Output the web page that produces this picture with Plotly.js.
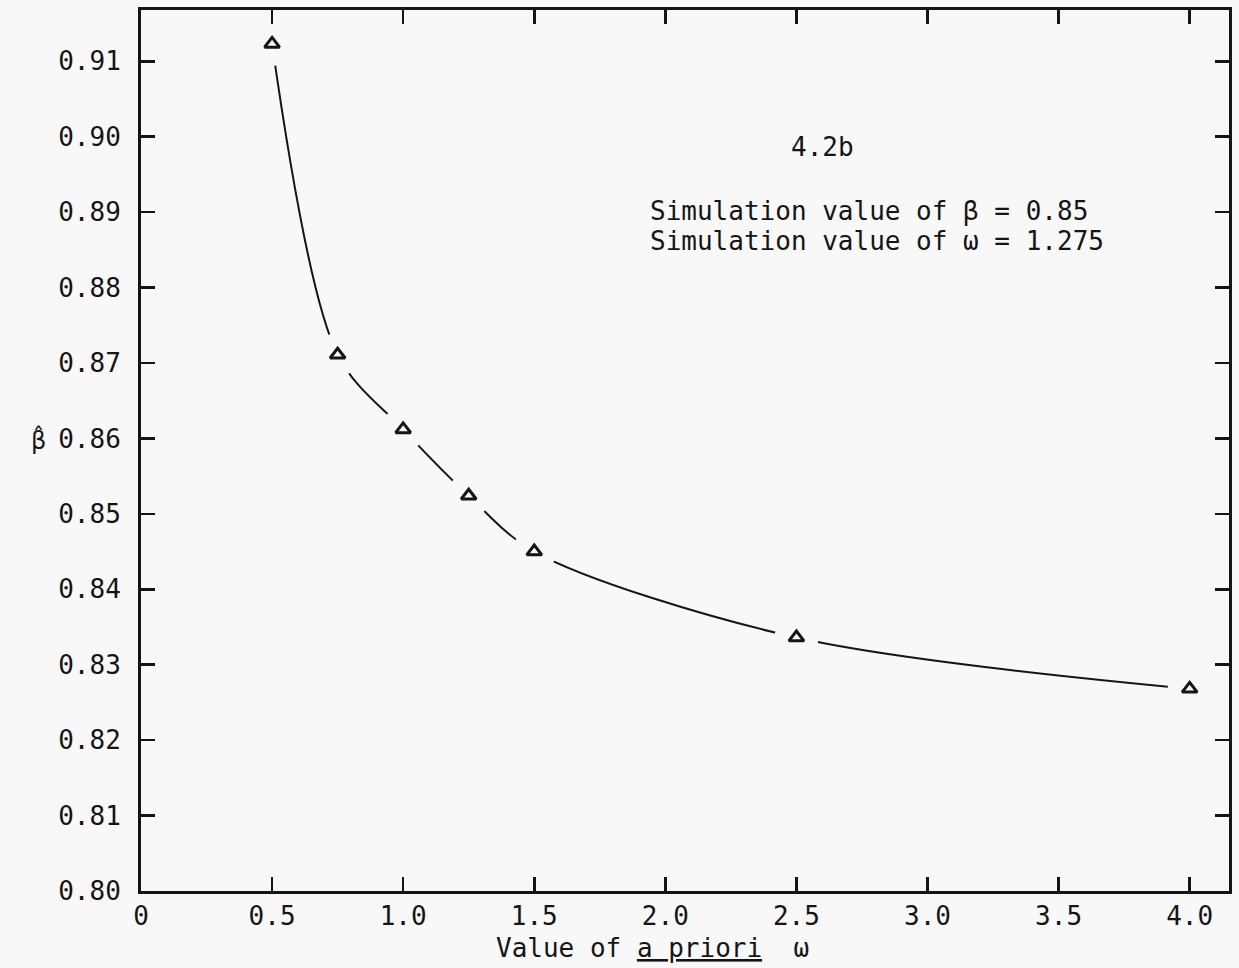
<!DOCTYPE html>
<html>
<head>
<meta charset="utf-8">
<script src="https://cdn.plot.ly/plotly-3.0.1.min.js"></script>
<style>html,body{margin:0;padding:0;background:#f8f8f8;}</style>
</head>
<body>
<div id="chart" style="width:1239px;height:968px;"></div>
<script>
// Data
const omegaPrior = [0.5, 0.75, 1.0, 1.25, 1.5, 2.5, 4.0];
const betaHat   = [0.9123, 0.8711, 0.8612, 0.8524, 0.8450, 0.8336, 0.8268];

const xTickVals = [0, 0.5, 1.0, 1.5, 2.0, 2.5, 3.0, 3.5, 4.0];
const xTickText = ['0', '0.5', '1.0', '1.5', '2.0', '2.5', '3.0', '3.5', '4.0'];
const yTickVals = [0.80, 0.81, 0.82, 0.83, 0.84, 0.85, 0.86, 0.87, 0.88, 0.89, 0.90, 0.91];
const yTickText = ['0.80', '0.81', '0.82', '0.83', '0.84', '0.85', '0.86', '0.87', '0.88', '0.89', '0.90', '0.91'];

const FONT = 'DejaVu Sans Mono, Liberation Mono, monospace';
const BG = '#f8f8f8';
const INK = '#151515';

const traces = [
  { // smooth curve
    x: omegaPrior, y: betaHat, type: 'scatter', mode: 'lines',
    line: {shape: 'spline', smoothing: 0.9, color: INK, width: 2},
    hoverinfo: 'skip', showlegend: false
  },
  { // background-coloured masks to break the line around each point
    x: omegaPrior, y: betaHat, type: 'scatter', mode: 'markers',
    marker: {symbol: 'circle', size: 44, color: BG, line: {width: 0}},
    hoverinfo: 'skip', showlegend: false
  },
  { // open triangle markers
    x: omegaPrior, y: betaHat, type: 'scatter', mode: 'markers',
    marker: {symbol: 'triangle-up-open', size: 13, color: INK, line: {width: 3, color: INK}},
    showlegend: false
  }
];

const axisCommon = {
  showgrid: false, zeroline: false, showline: true, linecolor: INK, linewidth: 3,
  mirror: 'ticks', ticks: 'inside', ticklen: 14, tickwidth: 2.5, tickcolor: INK,
  tickfont: {family: FONT, size: 26, color: INK}, tickmode: 'array'
};

const layout = {
  width: 1239, height: 968,
  margin: {l: 141, r: 10, t: 10, b: 77},
  paper_bgcolor: BG, plot_bgcolor: BG,
  xaxis: Object.assign({}, axisCommon, {
    range: [0, 4.15], tickvals: xTickVals, ticktext: xTickText,
    ticklabelstandoff: 0
  }),
  yaxis: Object.assign({}, axisCommon, {
    range: [0.80, 0.9168], tickvals: yTickVals, ticktext: yTickText,
    ticklabelstandoff: 12
  }),
  annotations: [
    {xref: 'paper', yref: 'paper', x: 0.4697, y: -0.0647, text: 'Value of <u>a priori</u>\u00a0 ω', showarrow: false,
     font: {family: FONT, size: 26, color: INK}, xanchor: 'center', yanchor: 'middle'},
    {xref: 'paper', yref: 'paper', x: -0.094, y: 0.512, text: 'β\u0302', showarrow: false,
     font: {family: 'DejaVu Sans, sans-serif', size: 24, color: INK}, xanchor: 'center', yanchor: 'middle'},
    {xref: 'paper', yref: 'paper', x: 0.626, y: 0.8445, text: '4.2b', showarrow: false,
     font: {family: FONT, size: 26, color: INK}, xanchor: 'center', yanchor: 'middle'},
    {xref: 'paper', yref: 'paper', x: 0.466, y: 0.772, text: 'Simulation value of β = 0.85', showarrow: false,
     font: {family: FONT, size: 26, color: INK}, xanchor: 'left', yanchor: 'middle'},
    {xref: 'paper', yref: 'paper', x: 0.466, y: 0.738, text: 'Simulation value of ω = 1.275', showarrow: false,
     font: {family: FONT, size: 26, color: INK}, xanchor: 'left', yanchor: 'middle'}
  ]
};

Plotly.newPlot('chart', traces, layout, {displayModeBar: false, staticPlot: true});
</script>
</body>
</html>
